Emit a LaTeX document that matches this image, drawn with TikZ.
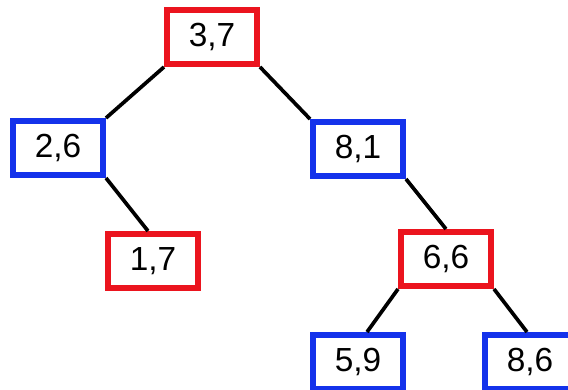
\documentclass[tikz,border=0pt]{standalone}
\usepackage{fontspec}
\setmainfont{Liberation Sans}
\definecolor{boxred}{RGB}{235,20,30}
\definecolor{boxblue}{RGB}{20,50,235}
\tikzset{
	keybox/.style={draw, line width=3.4pt, minimum width=1.8cm, minimum height=1.08cm, inner sep=0pt, font=\fontsize{19}{22}\selectfont},
	redbox/.style={keybox, color=boxred, text=black},
	bluebox/.style={keybox, color=boxblue, text=black},
	edge/.style={line width=2.1pt, color=black}
}

\begin{document}
\begin{tikzpicture}[x=0.02cm, y=-0.02cm]
		%%%%% START %%%%%
		
		\useasboundingbox (0, 0) rectangle (568, 389);
		
		\node[redbox] (n37) at (212, 37) {3,7};
		
		\node[bluebox] (n26) at (58, 148) {2,6};
		\node[bluebox] (n81) at (358, 149) {8,1};
		
		\node[redbox] (n17) at (153, 261) {1,7};
		\node[redbox] (n66) at (446, 259) {6,6};
		
		\node[bluebox] (n59) at (358, 362) {5,9};
		\node[bluebox] (n86) at (530, 362) {8,6};
		
		\draw[edge] (n37.south west) -- (n26.north east);
		\draw[edge] (n37.south east) -- (n81.north west);
		\draw[edge] (n26.south east) -- ([xshift=-0.1cm]n17.north);
		\draw[edge] (n81.south east) -- (n66.north);
		\draw[edge] (n66.south west) -- ([xshift=0.18cm]n59.north);
		\draw[edge] (n66.south east) -- ([xshift=-0.06cm]n86.north);
		
		%%%%% END %%%%%
	\end{tikzpicture}
\end{document}
